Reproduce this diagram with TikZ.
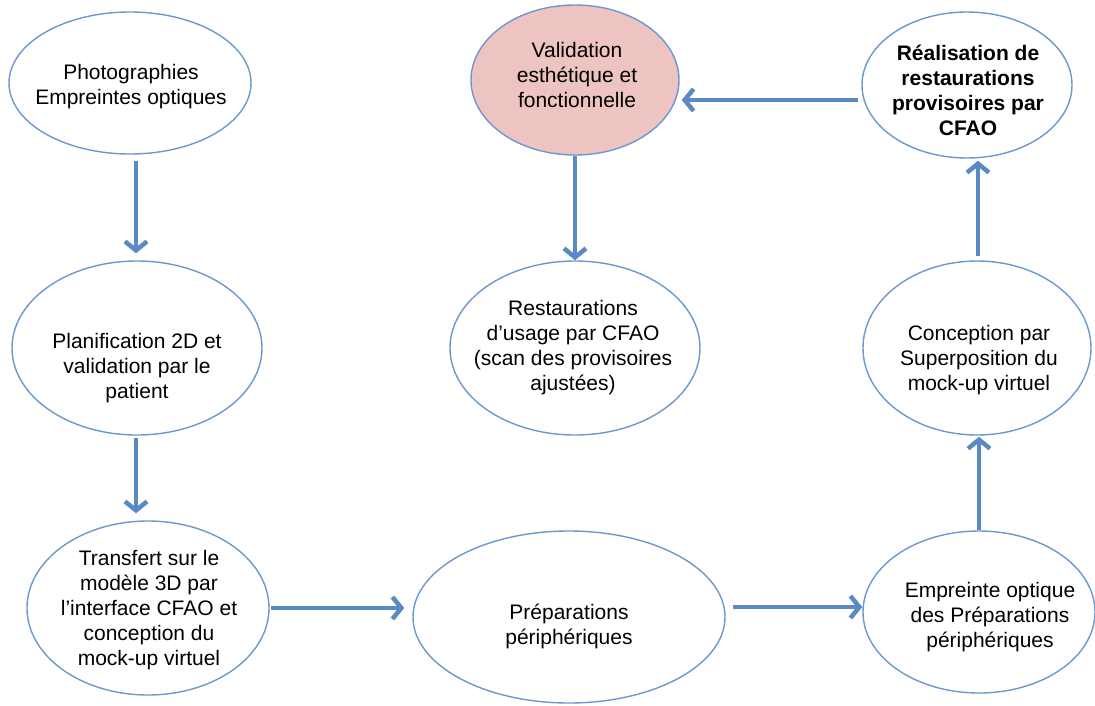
\documentclass[tikz,border=0pt]{standalone}
\usepackage{fontspec}
\setmainfont{Liberation Sans}
\usetikzlibrary{arrows.meta,shapes.geometric}
\definecolor{ellc}{HTML}{6B98CD}
\definecolor{arrc}{HTML}{5A8AC5}
\definecolor{pinkc}{HTML}{EDC4C1}
\tikzset{
  ell/.style={ellipse, draw=ellc, line width=1.4pt, inner sep=0pt},
  txt/.style={align=center, inner sep=0pt, font=\fontsize{21}{25}\selectfont},
  arr/.style={draw=arrc, line width=4.5pt, -{Straight Barb[length=9pt,width=22pt]}}
}
\begin{document}
\begin{tikzpicture}[x=1pt,y=-1pt]
\useasboundingbox (0,0) rectangle (1095,705);
% ellipses
\node[ell, minimum width=242pt, minimum height=142pt] (n1) at (130,83) {};
\node[ell, minimum width=250pt, minimum height=174pt] (n2) at (137,348) {};
\node[ell, minimum width=242pt, minimum height=174pt] (n3) at (148,608) {};
\node[ell, minimum width=312pt, minimum height=172pt] (n4) at (569,617) {};
\node[ell, minimum width=232pt, minimum height=162pt] (n5) at (979,612) {};
\node[ell, minimum width=228pt, minimum height=174pt] (n6) at (977,348) {};
\node[ell, minimum width=210pt, minimum height=146pt] (n7) at (967,85) {};
\node[ell, fill=pinkc, minimum width=208pt, minimum height=150pt] (n8) at (575,80) {};
\node[ell, minimum width=250pt, minimum height=174pt] (n9) at (575,348) {};
% texts
\node[txt] (t1) at (131,87) {Photographies\\Empreintes optiques};
\node[txt] (t2) at (137,368) {Planification 2D et\\validation par le\\patient};
\node[txt] (t3) at (149,610) {Transfert sur le\\modèle 3D par\\l’interface CFAO et\\conception du\\mock-up virtuel};
\node[txt] (t4) at (569,626) {Préparations\\périphériques};
\node[txt] (t5) at (990,617) {Empreinte optique\\des Préparations\\périphériques};
\node[txt] (t6) at (979,360) {Conception par\\Superposition du\\mock-up virtuel};
\node[txt, font=\fontsize{21}{25}\selectfont\bfseries] (t7) at (968,90) {Réalisation de\\restaurations\\provisoires par\\CFAO};
\node[txt] (t8) at (577,75) {Validation\\esthétique et\\fonctionnelle};
\node[txt] (t9) at (573,348) {Restaurations\\d’usage par CFAO\\(scan des provisoires\\ajustées)};
% connectors
\draw[arr, shorten <=6pt, shorten >=7pt] ([xshift=-1pt]n1.south -| n2.north) -- ([xshift=-1pt]n2.north);
\draw[arr, shorten <=2pt, shorten >=7pt] ([xshift=-1pt]n2.south) -- ([xshift=-1pt]n3.north -| n2.south);
\draw[arr, shorten <=1pt, shorten >=8pt] (n3.east) -- (n3.east -| n4.west);
\draw[arr, shorten <=7pt, shorten >=0pt] ([yshift=5pt]n5.west -| n4.east) -- ([yshift=5pt]n5.west);
\draw[arr, shorten <=0pt, shorten >=1pt] (n5.north) -- (n6.south -| n5.north);
\draw[arr, shorten <=4pt, shorten >=2pt] (n6.north -| n7.south) ++(11,0) -- ([xshift=11pt]n7.south);
\draw[arr, shorten <=3pt, shorten >=2pt] ([yshift=-15pt]n7.west) -- ([yshift=-15pt]n7.west -| n8.east);
\draw[arr, shorten <=0pt, shorten >=0pt] (n8.south) -- (n9.north);
\end{tikzpicture}
\end{document}
